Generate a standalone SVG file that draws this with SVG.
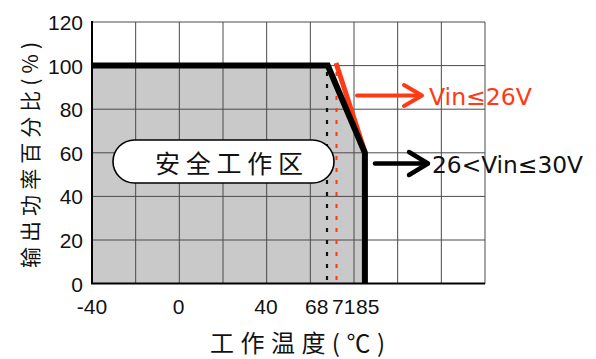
<svg xmlns="http://www.w3.org/2000/svg" width="596" height="359" viewBox="0 0 596 359">
<defs>
<style>
.grid{stroke:#4a4a4a;stroke-width:1;fill:none}
.frame{stroke:#000;stroke-width:2;fill:none}
.tick{font-family:"Liberation Sans",Arial,sans-serif;font-size:21px;fill:#111}
.cjk{font-family:"Noto Sans CJK SC","Noto Sans",sans-serif;fill:#111}
.lbl{font-family:"DejaVu Sans","Liberation Sans",sans-serif;font-size:23px}
.red{stroke:#ff3a14}
.blk{stroke:#000}
</style>
</defs>
<rect width="596" height="359" fill="#fff"/>
<g id="plot">
<polygon points="92,65.6 327.8,65.6 364.9,152.8 364.9,283.6 92,283.6" fill="#c9c9c9"/>
<path class="grid" d="M135.67,22V283.6M179.33,22V283.6M223,22V283.6M266.67,22V283.6M310.33,22V283.6M354,22V283.6M397.67,22V283.6M441.33,22V283.6M485,22V283.6M92,22H485M92,65.6H485M92,109.2H485M92,152.8H485M92,196.4H485M92,240H485"/>
<path class="frame" d="M92,21V283.6H485"/>
<line x1="327" y1="72" x2="327" y2="283" stroke="#111" stroke-width="2.2" stroke-dasharray="4 8"/>
<line x1="336.5" y1="72" x2="336.5" y2="283" stroke="#ff3a14" stroke-width="2" stroke-dasharray="4 8"/>
</g>
<g id="curves">
<polyline points="336,63 365,152" fill="none" class="red" stroke-width="5"/>
<polyline points="92,65.6 327.8,65.6 364.9,152.8 364.9,284" fill="none" class="blk" stroke-width="6"/>
</g>
<g id="safe-zone">
<rect x="113" y="140" width="221" height="43" rx="21.5" fill="#fff" stroke="#000" stroke-width="1.6"/>
<text class="cjk" x="155" y="173" font-size="25" textLength="148" lengthAdjust="spacing">安全工作区</text>
</g>
<g id="connectors">
<g class="red" stroke-width="4" fill="none" stroke-linecap="round" stroke-linejoin="round">
<line x1="357" y1="95.5" x2="420" y2="95.5"/>
<polyline points="404,85 422,95.5 404,106"/>
</g>
<g class="blk" stroke-width="4.5" fill="none" stroke-linecap="round" stroke-linejoin="round">
<line x1="375" y1="163.5" x2="425" y2="163.5"/>
<polyline points="409,152 428,163.5 409,175"/>
</g>
</g>
<g id="label-vin26">
<text class="lbl" x="429" y="105" fill="#ff3a14" textLength="103" lengthAdjust="spacingAndGlyphs">Vin≤26V</text>
</g>
<g id="label-vin30">
<text class="lbl" x="432" y="173" fill="#111" textLength="151" lengthAdjust="spacingAndGlyphs">26&lt;Vin≤30V</text>
</g>
<g id="y-ticks" class="tick" text-anchor="end">
<text x="83" y="30">120</text>
<text x="83" y="73.6">100</text>
<text x="83" y="117.2">80</text>
<text x="83" y="160.8">60</text>
<text x="83" y="204.4">40</text>
<text x="83" y="248">20</text>
<text x="83" y="291.6">0</text>
</g>
<g id="x-ticks" class="tick">
<text x="92" y="314" text-anchor="middle">-40</text>
<text x="178.5" y="314" text-anchor="middle">0</text>
<text x="266" y="314" text-anchor="middle">40</text>
<text x="305" y="314">68</text>
<text x="332" y="314">71</text>
<text x="356" y="314">85</text>
</g>
<g id="axis-titles">
<text class="cjk" x="210" y="352" font-size="24" textLength="175" lengthAdjust="spacing">工作温度(℃)</text>
<text class="cjk" transform="translate(38,155) rotate(-90)" x="0" y="0" font-size="21" text-anchor="middle" textLength="226" lengthAdjust="spacing">输出功率百分比(%)</text>
</g>
</svg>
